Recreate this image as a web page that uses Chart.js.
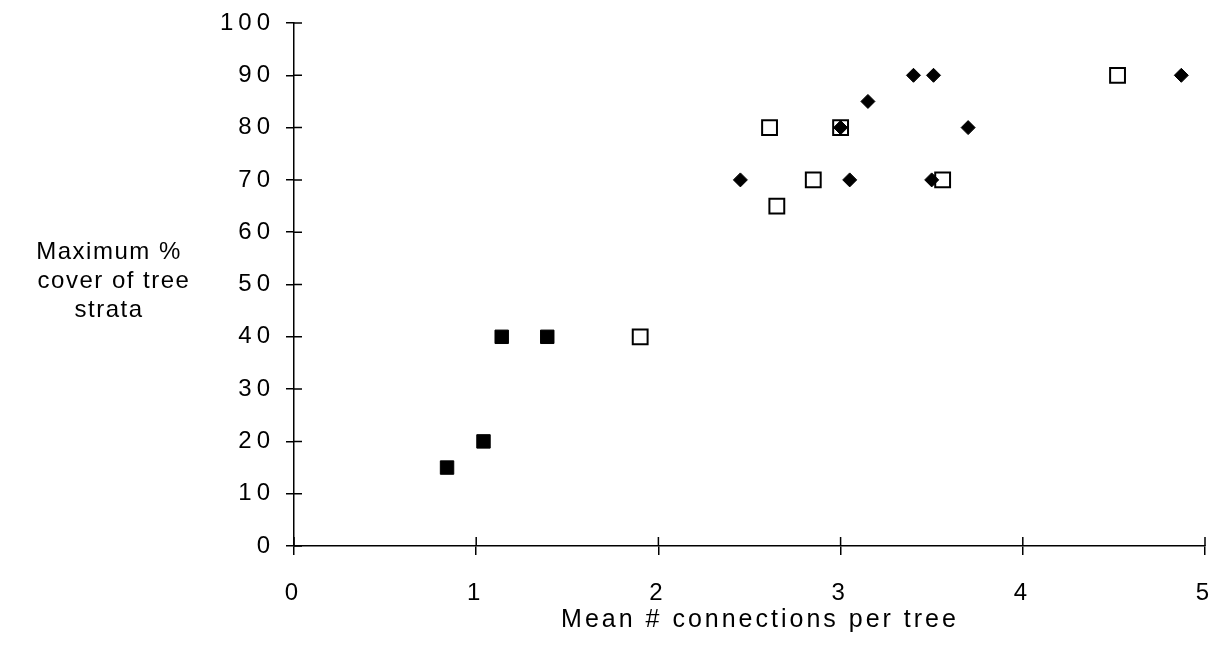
<!DOCTYPE html>
<html>
<head>
<meta charset="utf-8">
<script src="https://cdn.jsdelivr.net/npm/chart.js@4.4.1/dist/chart.umd.min.js"></script>
<style>
  html, body { margin: 0; padding: 0; background: #ffffff; }
  #wrap { position: relative; width: 1218px; height: 665px; }
</style>
</head>
<body>
<div id="wrap"><canvas id="c" width="1218" height="665"></canvas></div>
<script>
// ---- data ----
const filledX = [0.84, 1.04, 1.14, 1.39];
const filledY = [15, 20, 40, 40];

const openX = [1.90, 2.61, 2.65, 2.85, 3.00, 3.56, 4.52];
const openY = [40, 80, 65, 70, 80, 70, 90];

const diamondX = [2.45, 3.00, 3.05, 3.15, 3.40, 3.51, 3.50, 3.70, 4.87];
const diamondY = [70, 80, 70, 85, 90, 90, 70, 80, 90];

const xTicks = [0, 1, 2, 3, 4, 5];
const yTicks = [0, 10, 20, 30, 40, 50, 60, 70, 80, 90, 100];

const xTitle = 'Mean # connections per tree';
const yTitleLines = ['Maximum %', 'cover of tree', 'strata'];

const toPts = (xs, ys) => xs.map((x, i) => ({ x: x, y: ys[i] }));

const FONT = "'Liberation Sans', Arial, Helvetica, sans-serif";

const axisDecor = {
  id: 'axisDecor',
  afterDatasetsDraw(chart) {
    const ctx = chart.ctx;
    const xs = chart.scales.x, ys = chart.scales.y;
    const a = chart.chartArea;
    ctx.save();
    ctx.strokeStyle = '#000';
    ctx.lineWidth = 1.5;
    ctx.beginPath();
    xTicks.forEach(v => {
      const px = xs.getPixelForValue(v);
      ctx.moveTo(px, a.bottom);
      ctx.lineTo(px, a.bottom - 9);
    });
    yTicks.forEach(v => {
      const py = ys.getPixelForValue(v);
      ctx.moveTo(a.left, py);
      ctx.lineTo(a.left + 8, py);
    });
    ctx.stroke();
    ctx.restore();

    // axis titles
    ctx.save();
    ctx.fillStyle = '#000';
    ctx.textAlign = 'center';
    ctx.textBaseline = 'middle';
    ctx.font = '24px ' + FONT;
    ctx.letterSpacing = '1.5px';
    const cx = [109, 114, 109];
    yTitleLines.forEach((t, i) => {
      ctx.fillText(t, cx[i], 252 + i * 29);
    });
    ctx.font = '25px ' + FONT;
    ctx.letterSpacing = '3px';
    ctx.fillText(xTitle, 760, 620);
    ctx.restore();
    // tick labels are drawn after datasets (z:1) with wide letter spacing
    ctx.letterSpacing = '5px';
  },
  afterDraw(chart) {
    chart.ctx.letterSpacing = '0px';
  }
};

new Chart(document.getElementById('c'), {
  type: 'scatter',
  data: {
    datasets: [
      {
        label: 'diamonds',
        data: toPts(diamondX, diamondY),
        pointStyle: 'rectRot',
        pointRadius: 7,
        pointHoverRadius: 7,
        backgroundColor: '#000',
        borderColor: '#000',
        borderWidth: 1
      },
      {
        label: 'open squares',
        data: toPts(openX, openY),
        pointStyle: 'rect',
        pointRadius: 10.5,
        pointHoverRadius: 10.5,
        backgroundColor: '#fff',
        borderColor: '#000',
        borderWidth: 2
      },
      {
        label: 'filled squares',
        data: toPts(filledX, filledY),
        pointStyle: 'rect',
        pointRadius: 9.5,
        pointHoverRadius: 9.5,
        backgroundColor: '#000',
        borderColor: '#000',
        borderWidth: 1
      }
    ]
  },
  options: {
    responsive: false,
    animation: false,
    devicePixelRatio: 1,
    layout: { padding: { left: 0, right: 13, top: 23, bottom: 0 } },
    plugins: {
      legend: { display: false },
      tooltip: { enabled: false }
    },
    scales: {
      x: {
        type: 'linear',
        min: 0,
        max: 5,
        afterBuildTicks(scale) { scale.ticks = xTicks.map(v => ({ value: v })); },
        afterFit(scale) {
          scale.height = 665 - 546;
          scale.paddingLeft = 0;
          scale.paddingRight = 0;
        },
        border: { display: true, color: '#000', width: 1.5 },
        grid: { drawOnChartArea: false, drawTicks: true, tickLength: 9, color: '#000', lineWidth: 1.5 },
        ticks: {
          z: 1,
          padding: 24,
          color: '#000',
          font: { family: FONT, size: 24 },
          maxRotation: 0
        },
        title: { display: false }
      },
      y: {
        type: 'linear',
        min: 0,
        max: 100,
        afterBuildTicks(scale) { scale.ticks = yTicks.map(v => ({ value: v })); },
        afterFit(scale) {
          scale.width = 294;
          scale.paddingTop = 0;
          scale.paddingBottom = 0;
        },
        border: { display: true, color: '#000', width: 1.5 },
        grid: { drawOnChartArea: false, drawTicks: true, tickLength: 8, color: '#000', lineWidth: 1.5 },
        ticks: {
          z: 1,
          padding: 11,
          color: '#000',
          font: { family: FONT, size: 24 }
        }
      }
    }
  },
  plugins: [axisDecor]
});
</script>
</body>
</html>
